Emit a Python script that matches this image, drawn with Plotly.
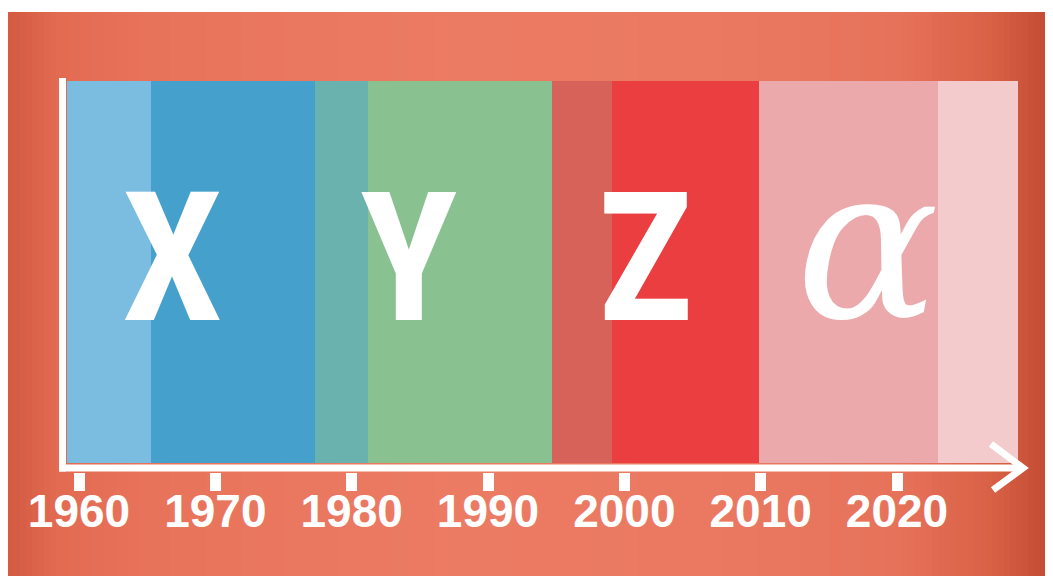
import plotly.graph_objects as go

# ---- data -------------------------------------------------------------
band_start = [1959.1, 1965.3, 1977.3, 1981.2, 1994.7, 1999.1, 2009.9, 2023.0]
band_end   = [1965.3, 1977.3, 1981.2, 1994.7, 1999.1, 2009.9, 2023.0, 2028.9]
band_color = ["#7BBDE1", "#45A1CC", "#6AB2AE", "#89C191",
              "#D6625A", "#EA3E41", "#EBA9AC", "#F3CBCC"]
tick_years = [1960, 1970, 1980, 1990, 2000, 2010, 2020]
tick_text  = ["1960", "1970", "1980", "1990", "2000", "2010", "2020"]
gen_labels = ["X", "Y", "Z", "α"]

# ---- layout constants (screen pixels; page body has an 8px margin) -----
W, H = 1053, 576
OFF = 8
X_RANGE = [1954.79, 2032.03]
BAND_TOP, BAND_BOT = 81, 463
AXIS_Y = 468
BG = "#E8745B"
# horizontal background shading stops: (screen x, rgb)
BG_STOPS = [(8, (212, 90, 66)), (60, (226, 107, 82)), (150, (232, 115, 91)),
            (450, (236, 123, 99)), (700, (235, 121, 97)), (900, (230, 114, 90)),
            (990, (217, 97, 70)), (1061, (190, 70, 46))]


def px(x):
    return (x - OFF) / W


def py(y):
    return (H - (y - OFF)) / H


def bg_color(x):
    for (x0, c0), (x1, c1) in zip(BG_STOPS[:-1], BG_STOPS[1:]):
        if x0 <= x <= x1:
            t = (x - x0) / (x1 - x0)
            r, g, b = (round(a + (bb - a) * t) for a, bb in zip(c0, c1))
            return f"rgb({r},{g},{b})"
    return BG


fig = go.Figure()
fig.add_trace(go.Bar(
    orientation="h",
    base=band_start,
    x=[e - s for s, e in zip(band_start, band_end)],
    y=[0] * len(band_start),
    width=1,
    marker=dict(color=band_color, line=dict(width=0)),
    hoverinfo="skip",
    showlegend=False,
))

shapes = []
step = 6
xs = list(range(8, 1062, step))
for x in xs:
    shapes.append(dict(type="rect", xref="paper", yref="paper",
                       x0=px(x), x1=px(x + step + 0.5), y0=0, y1=py(12),
                       fillcolor=bg_color(x + step / 2), line=dict(width=0), layer="below"))
shapes += [
    # white strip at the top
    dict(type="rect", xref="paper", yref="paper", x0=0, x1=1, y0=py(12), y1=1,
         fillcolor="white", line=dict(width=0), layer="below"),
    # horizontal axis line
    dict(type="line", xref="paper", yref="paper", x0=px(59), x1=px(1022),
         y0=py(AXIS_Y), y1=py(AXIS_Y), line=dict(color="white", width=7)),
    # vertical axis line
    dict(type="line", xref="paper", yref="paper", x0=px(62.5), x1=px(62.5),
         y0=py(78), y1=py(471.5), line=dict(color="white", width=7)),
    # arrow head
    dict(type="path", xref="paper", yref="paper",
         path=f"M {px(991)},{py(444)} L {px(1023)},{py(468)} L {px(993)},{py(490)}",
         line=dict(color="white", width=7)),
]

label_px = [172.5, 409, 645, 867]
annotations = []
for lab, xp in zip(gen_labels[:3], label_px[:3]):
    annotations.append(dict(
        text=f"<b>{lab}</b>", xref="paper", yref="paper", x=px(xp), y=py(259),
        xanchor="center", yanchor="middle", showarrow=False,
        font=dict(family="Noto Sans Condensed, Roboto Condensed, Liberation Sans Narrow, "
                         "Arial Narrow, Liberation Sans, sans-serif",
                  size=180, color="white")))
annotations.append(dict(
    text=f"<i>{gen_labels[3]}</i>", xref="paper", yref="paper", x=px(label_px[3]), y=py(243),
    xanchor="center", yanchor="middle", showarrow=False,
    font=dict(family="DejaVu Serif, serif", size=212, color="white")))

fig.update_layout(
    width=W, height=H,
    margin=dict(l=0, r=0, t=0, b=0),
    paper_bgcolor=BG,
    plot_bgcolor="rgba(0,0,0,0)",
    barmode="overlay",
    bargap=0,
    showlegend=False,
    shapes=shapes,
    annotations=annotations,
    xaxis=dict(
        domain=[0, 1], range=X_RANGE, anchor="free", position=py(471.5),
        showgrid=False, zeroline=False, showline=False,
        ticks="outside", ticklen=18, tickwidth=11, tickcolor="white",
        ticklabelstandoff=-19,
        tickvals=tick_years, ticktext=tick_text,
        tickfont=dict(family="Liberation Sans, Arial, sans-serif", size=46, color="white",
                      weight="bold"),
    ),
    yaxis=dict(domain=[py(BAND_BOT), py(BAND_TOP)], range=[-0.5, 0.5], visible=False),
)

fig.write_html("out.html")
